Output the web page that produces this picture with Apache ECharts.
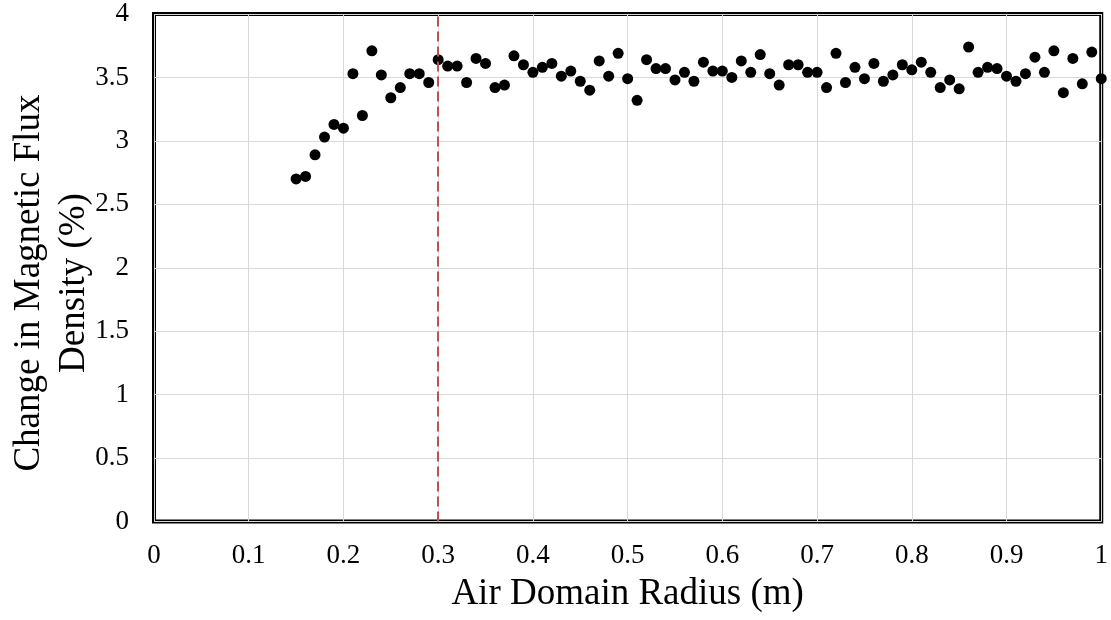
<!DOCTYPE html>
<html>
<head>
<meta charset="utf-8">
<script src="https://cdn.jsdelivr.net/npm/echarts@6/dist/echarts.min.js"></script>
<style>
html,body{margin:0;padding:0;background:#fff;}
#chart{width:1111px;height:620px;}
</style>
</head>
<body>
<div id="chart"></div>
<script>
// Air domain radius (m)
const radius = [0.15,0.16,0.17,0.18,0.19,0.20,0.21,0.22,0.23,0.24,0.25,0.26,0.27,0.28,0.29,
  0.30,0.31,0.32,0.33,0.34,0.35,0.36,0.37,0.38,0.39,
  0.40,0.41,0.42,0.43,0.44,0.45,0.46,0.47,0.48,0.49,
  0.50,0.51,0.52,0.53,0.54,0.55,0.56,0.57,0.58,0.59,
  0.60,0.61,0.62,0.63,0.64,0.65,0.66,0.67,0.68,0.69,
  0.70,0.71,0.72,0.73,0.74,0.75,0.76,0.77,0.78,0.79,
  0.80,0.81,0.82,0.83,0.84,0.85,0.86,0.87,0.88,0.89,
  0.90,0.91,0.92,0.93,0.94,0.95,0.96,0.97,0.98,0.99,1.00];
// Change in magnetic flux density (%)
const change = [2.70,2.72,2.89,3.03,3.13,3.10,3.53,3.20,3.71,3.52,3.34,3.42,3.53,3.53,3.46,
  3.64,3.59,3.59,3.46,3.65,3.61,3.42,3.44,3.67,3.60,
  3.54,3.58,3.61,3.51,3.55,3.47,3.40,3.63,3.51,3.69,
  3.49,3.32,3.64,3.57,3.57,3.48,3.54,3.47,3.62,3.55,
  3.55,3.50,3.63,3.54,3.68,3.53,3.44,3.60,3.60,3.54,
  3.54,3.42,3.69,3.46,3.58,3.49,3.61,3.47,3.52,3.60,
  3.56,3.62,3.54,3.42,3.48,3.41,3.74,3.54,3.58,3.57,
  3.51,3.47,3.53,3.66,3.54,3.71,3.38,3.65,3.45,3.70,3.49];
const thresholdRadius = 0.3;
const xTitle = 'Air Domain Radius (m)';
const yTitleLines = ['Change in Magnetic Flux', 'Density (%)'];

const FONT = '"Liberation Serif", "Times New Roman", serif';
const points = radius.map((r, i) => [r, change[i]]);

const chart = echarts.init(document.getElementById('chart'));
chart.setOption({
  animation: false,
  backgroundColor: '#fff',
  grid: {
    left: 154, right: 8.5, top: 14, bottom: 98.5,
    show: true, borderColor: '#000', borderWidth: 4, backgroundColor: 'transparent'
  },
  xAxis: {
    type: 'value', min: 0, max: 1, interval: 0.1,
    axisLine: {show: false}, axisTick: {show: false},
    splitLine: {show: true, lineStyle: {color: '#d9d9d9', width: 1}},
    axisLabel: {color: '#000', fontFamily: FONT, fontSize: 27, margin: 21,
      formatter: v => String(Math.round(v * 10) / 10)},
    name: xTitle, nameLocation: 'middle', nameGap: 54,
    nameTextStyle: {color: '#000', fontFamily: FONT, fontSize: 37}
  },
  yAxis: {
    type: 'value', min: 0, max: 4, interval: 0.5,
    axisLine: {show: false}, axisTick: {show: false},
    splitLine: {show: true, lineStyle: {color: '#d9d9d9', width: 1}},
    axisLabel: {color: '#000', fontFamily: FONT, fontSize: 27, margin: 25}
  },
  graphic: [{
    type: 'text', x: 52, y: 283, rotation: Math.PI / 2,
    style: {
      text: yTitleLines.join('\n'), fill: '#000', font: '37px ' + FONT,
      align: 'center', verticalAlign: 'middle', lineHeight: 45
    }
  }],
  series: [{
    type: 'scatter', data: points, symbol: 'circle', symbolSize: 11,
    itemStyle: {color: '#000', opacity: 1}, clip: false, z: 2,
    markLine: {
      silent: true, symbol: ['none', 'none'], label: {show: false}, z: 3,
      lineStyle: {color: '#C0504D', width: 2, type: [10, 5], opacity: 1},
      data: [{xAxis: thresholdRadius}]
    }
  }]
});
</script>
</body>
</html>
